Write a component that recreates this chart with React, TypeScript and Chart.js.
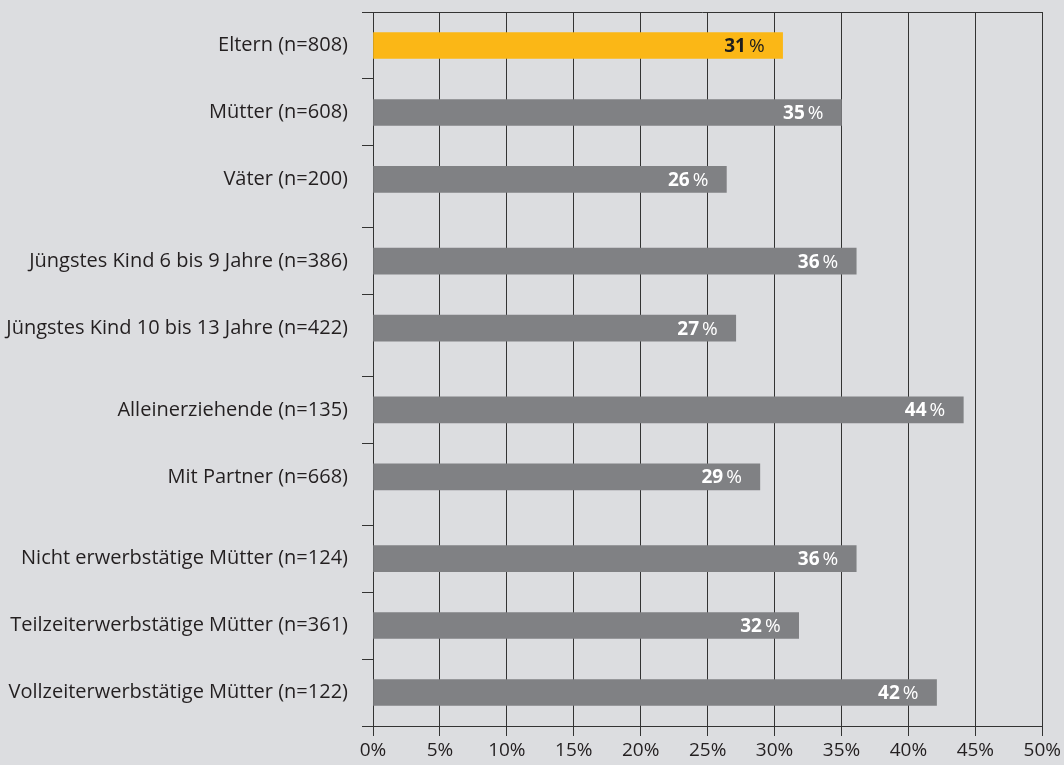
import React, { useEffect, useRef } from 'react';
import { Chart, registerables } from 'chart.js';

Chart.register(...registerables);

// ---- data ----
const categories = [
  'Eltern (n=808)',
  'Mütter (n=608)',
  'Väter (n=200)',
  'Jüngstes Kind 6 bis 9 Jahre (n=386)',
  'Jüngstes Kind 10 bis 13 Jahre (n=422)',
  'Alleinerziehende (n=135)',
  'Mit Partner (n=668)',
  'Nicht erwerbstätige Mütter (n=124)',
  'Teilzeiterwerbstätige Mütter (n=361)',
  'Vollzeiterwerbstätige Mütter (n=122)',
];
const values = [30.6, 35.0, 26.4, 36.1, 27.1, 44.1, 28.9, 36.1, 31.8, 42.1];
const groups = [0, 0, 0, 1, 1, 2, 2, 3, 3, 3];
const xTicks = [0, 5, 10, 15, 20, 25, 30, 35, 40, 45, 50];

// ---- style ----
const FONT = '"Open Sans", "DejaVu Sans", sans-serif';
const BG = '#dcdde0';
const GREY = '#808184';
const ORANGE = '#fbb716';
const LINE = '#333333';
const TEXT = '#231f20';
const GROUP_GAP = 0.22;
const Y_TICK_LEN = 11;

const positions = categories.map((_, i) => i + groups[i] * GROUP_GAP);
const yMin = positions[0] - 0.5;
const yMax = positions[positions.length - 1] + 0.5;
const boundaries = [...positions.map((p) => p - 0.5), yMax];

// top frame line of the plot area (extends over the y tick length, as in the original)
const frameTopPlugin = {
  id: 'frameTop',
  afterDraw(chart: any) {
    const { ctx, chartArea } = chart;
    const y = Math.round(chartArea.top) + 0.5;
    ctx.save();
    ctx.strokeStyle = LINE;
    ctx.lineWidth = 1;
    ctx.beginPath();
    ctx.moveTo(chartArea.left - Y_TICK_LEN, y);
    ctx.lineTo(chartArea.right + 0.5, y);
    ctx.stroke();
    ctx.restore();
  },
};

const valueLabelPlugin = {
  id: 'valueLabels',
  afterDatasetsDraw(chart: any) {
    const ctx = chart.ctx;
    const meta = chart.getDatasetMeta(0);
    meta.data.forEach((bar: any, i: number) => {
      const color = i === 0 ? '#1e1e1e' : '#ffffff';
      const num = String(Math.round(values[i]));
      ctx.save();
      ctx.textBaseline = 'middle';
      ctx.textAlign = 'right';
      ctx.fillStyle = color;
      ctx.font = `19px ${FONT}`;
      const right = bar.x - 18;
      const pw = ctx.measureText('%').width;
      ctx.fillText('%', right, bar.y + 1);
      ctx.font = `bold 19px ${FONT}`;
      ctx.fillText(num, right - pw - 3, bar.y + 1);
      ctx.restore();
    });
  },
};

export default function App() {
  const canvasRef = useRef<HTMLCanvasElement | null>(null);

  useEffect(() => {
    if (!canvasRef.current) return;
    const chart = new Chart(canvasRef.current, {
      type: 'bar',
      data: {
        datasets: [
          {
            data: values.map((v, i) => ({ x: v, y: positions[i] })) as any,
            backgroundColor: values.map((_, i) => (i === 0 ? ORANGE : GREY)),
            borderWidth: 0,
            barThickness: 26,
          },
        ],
      },
      options: {
        indexAxis: 'y',
        animation: false,
        responsive: true,
        maintainAspectRatio: false,
        layout: { padding: { top: 12, right: 19, bottom: 0, left: 0 } },
        plugins: { legend: { display: false }, tooltip: { enabled: false } },
        scales: {
          x: {
            type: 'linear',
            min: 0,
            max: 50,
            afterBuildTicks: (axis: any) => {
              axis.ticks = xTicks.map((v) => ({ value: v }));
            },
            afterFit: (axis: any) => {
              axis.height = 39;
            },
            ticks: {
              autoSkip: false,
              maxRotation: 0,
              padding: 3,
              color: TEXT,
              font: { family: FONT, size: 19 },
              callback: (v: any) => `${v}%`,
            },
            grid: { color: LINE, tickColor: LINE, lineWidth: 1, tickLength: 10, offset: false },
            border: { display: true, color: LINE, width: 1 },
          },
          y: {
            type: 'linear',
            reverse: true,
            min: yMin,
            max: yMax,
            offset: false,
            afterBuildTicks: (axis: any) => {
              const all = [...boundaries, ...positions].sort((a, b) => b - a);
              axis.ticks = all.map((v) => ({ value: v }));
            },
            afterFit: (axis: any) => {
              axis.width = 373;
              axis.paddingTop = 0;
              axis.paddingBottom = 0;
            },
            ticks: {
              autoSkip: false,
              maxTicksLimit: 100,
              padding: 14,
              color: TEXT,
              font: { family: FONT, size: 20 },
              callback: (v: any) => {
                const i = positions.indexOf(v);
                return i >= 0 ? categories[i] : '';
              },
            },
            grid: {
              offset: false,
              drawOnChartArea: false,
              lineWidth: 1,
              tickLength: Y_TICK_LEN,
              tickColor: (c: any) =>
                c.tick && boundaries.indexOf(c.tick.value) >= 0 ? LINE : 'rgba(0,0,0,0)',
            },
            border: { display: true, color: LINE, width: 1 },
          },
        },
      },
      plugins: [valueLabelPlugin, frameTopPlugin],
    });
    return () => chart.destroy();
  }, []);

  return (
    <div
      style={{
        position: 'fixed',
        left: 0,
        top: 0,
        width: 1064,
        height: 765,
        background: BG,
      }}
    >
      <canvas ref={canvasRef} />
    </div>
  );
}
